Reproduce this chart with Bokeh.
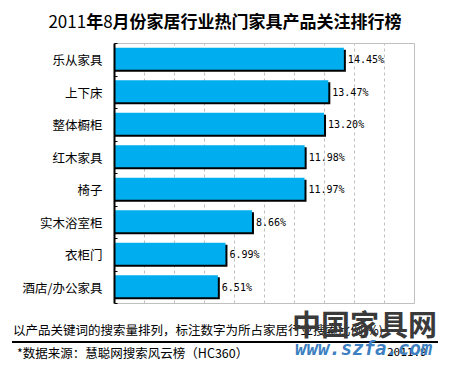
from bokeh.plotting import figure
from bokeh.layouts import column
from bokeh.models import Range1d, FixedTicker, ColumnDataSource, Div
from bokeh.core.properties import value
from bokeh.embed import file_html
from bokeh.resources import INLINE

title_parts = [("2011", "normal"), ("年", "bold"), ("8", "normal"), ("月份家居行业热门家具产品关注排行榜", "bold")]
categories = ["乐从家具", "上下床", "整体橱柜", "红木家具", "椅子", "实木浴室柜", "衣柜门", "酒店/办公家具"]
values = [14.45, 13.47, 13.20, 11.98, 11.97, 8.66, 6.99, 6.51]
value_labels = ["14.45%", "13.47%", "13.20%", "11.98%", "11.97%", "8.66%", "6.99%", "6.51%"]
note_text = "以产品关键词的搜索量排列，标注数字为所占家居行业搜索比例(%)"
source_text = "*数据来源：慧聪网搜索风云榜（HC360）"
date_text = "2011.9"
watermark_text = "中国家具网"
watermark_url = "www.szfa.com"

W, H = 450, 370
TITLE_H, MAIN_H = 40, 264
FOOT_H = H - TITLE_H - MAIN_H
CJK = "Noto Sans CJK SC"

x_max = 18.9
n = len(categories)
frame_w = 300
frame_h = 260

# ---- title ----
title_html = "".join(f'<span style="font-weight:{w}">{t}</span>' for t, w in title_parts)
title_div = Div(width=W, height=TITLE_H, margin=(0, 0, 0, 0), text=(
    f'<div style="position:relative;width:{W}px;height:{TITLE_H}px;">'
    f'<div style="position:absolute;left:0;top:0;width:{W}px;height:{TITLE_H}px;line-height:41px;'
    f'text-align:center;white-space:nowrap;font-family:\'{CJK}\';font-size:17px;color:black;">'
    f'{title_html}</div></div>'))

# ---- main chart ----
ypos = [n - 1 - i + 0.5 for i in range(n)]
shadow_dx = 2 * x_max / frame_w
shadow_dy = 1 / (frame_h / n)

src = ColumnDataSource(dict(
    y=ypos,
    yb=[v + shadow_dy for v in ypos],
    ys=[v - shadow_dy for v in ypos],
    v=values,
    vs=[v + shadow_dx for v in values],
    lab=value_labels,
))

p = figure(width=W, height=MAIN_H, output_backend="svg", toolbar_location=None,
           x_range=Range1d(0, x_max), y_range=Range1d(0, n),
           min_border_left=114, min_border_right=W - 114 - frame_w,
           min_border_top=MAIN_H - frame_h - 1, min_border_bottom=1, margin=(0, 0, 0, 0))
p.outline_line_color = "#c0c0c0"
p.xaxis.visible = False
p.ygrid.grid_line_color = None
p.xgrid.ticker = FixedTicker(ticks=[i * x_max / 10 for i in range(11)])
p.xgrid.grid_line_color = "#c0c0c0"
p.xgrid.grid_line_dash = "3 3"

yax = p.yaxis[0]
yax.ticker = FixedTicker(ticks=ypos, minor_ticks=list(range(n + 1)))
yax.major_label_overrides = {v: c for v, c in zip(ypos, categories)}
yax.major_tick_line_color = None
yax.major_tick_in = 0
yax.major_tick_out = 0
yax.minor_tick_in = 3
yax.minor_tick_out = 0
yax.minor_tick_line_color = "black"
yax.axis_line_color = "black"
yax.axis_line_width = 2
yax.major_label_standoff = 12
yax.major_label_text_font = CJK
yax.major_label_text_font_size = "12.5px"
yax.major_label_text_color = "black"

p.hbar(y="ys", left=0, right="vs", height=0.675, source=src, fill_color="black", line_color=None)
p.hbar(y="yb", left=0, right="v", height=0.675, source=src, fill_color="#00AEEF", line_color=None)
p.text(x="vs", y="y", text="lab", source=src, x_offset=2, text_baseline="middle",
       text_font_size="10px", text_font=value("DejaVu Sans Mono"), text_color="black")

# ---- footer ----
def abs_text(txt, left, top, size, lh, extra=""):
    return (f'<div style="position:absolute;left:{left}px;top:{top}px;line-height:{lh}px;'
            f'font-size:{size}px;white-space:nowrap;{extra}">{txt}</div>')

foot_html = (
    f'<div style="position:relative;width:{W}px;height:{FOOT_H}px;font-family:\'{CJK}\';color:black;">'
    + abs_text(note_text, 13, 18, 12.5, 16)
    + f'<div style="position:absolute;left:12px;top:37px;width:426px;height:1.5px;background:black;"></div>'
    + abs_text(source_text, 17, 41, 12.5, 16)
    + abs_text(date_text, 387, 42, 11, 14, "font-family:'DejaVu Sans Mono';")
    + abs_text(watermark_text, 292, 3, 29, 32, "font-weight:bold;color:#3a3a3a;")
    + abs_text(watermark_url, 295, 33, 19, 22,
               "font-family:'DejaVu Sans Mono';font-weight:bold;font-style:italic;color:#3d7fc0;")
    + '</div>'
)
foot_div = Div(width=W, height=FOOT_H, margin=(0, 0, 0, 0), text=foot_html)

layout = column(title_div, p, foot_div, spacing=0)
open("out.html", "w").write(file_html(layout, INLINE))
